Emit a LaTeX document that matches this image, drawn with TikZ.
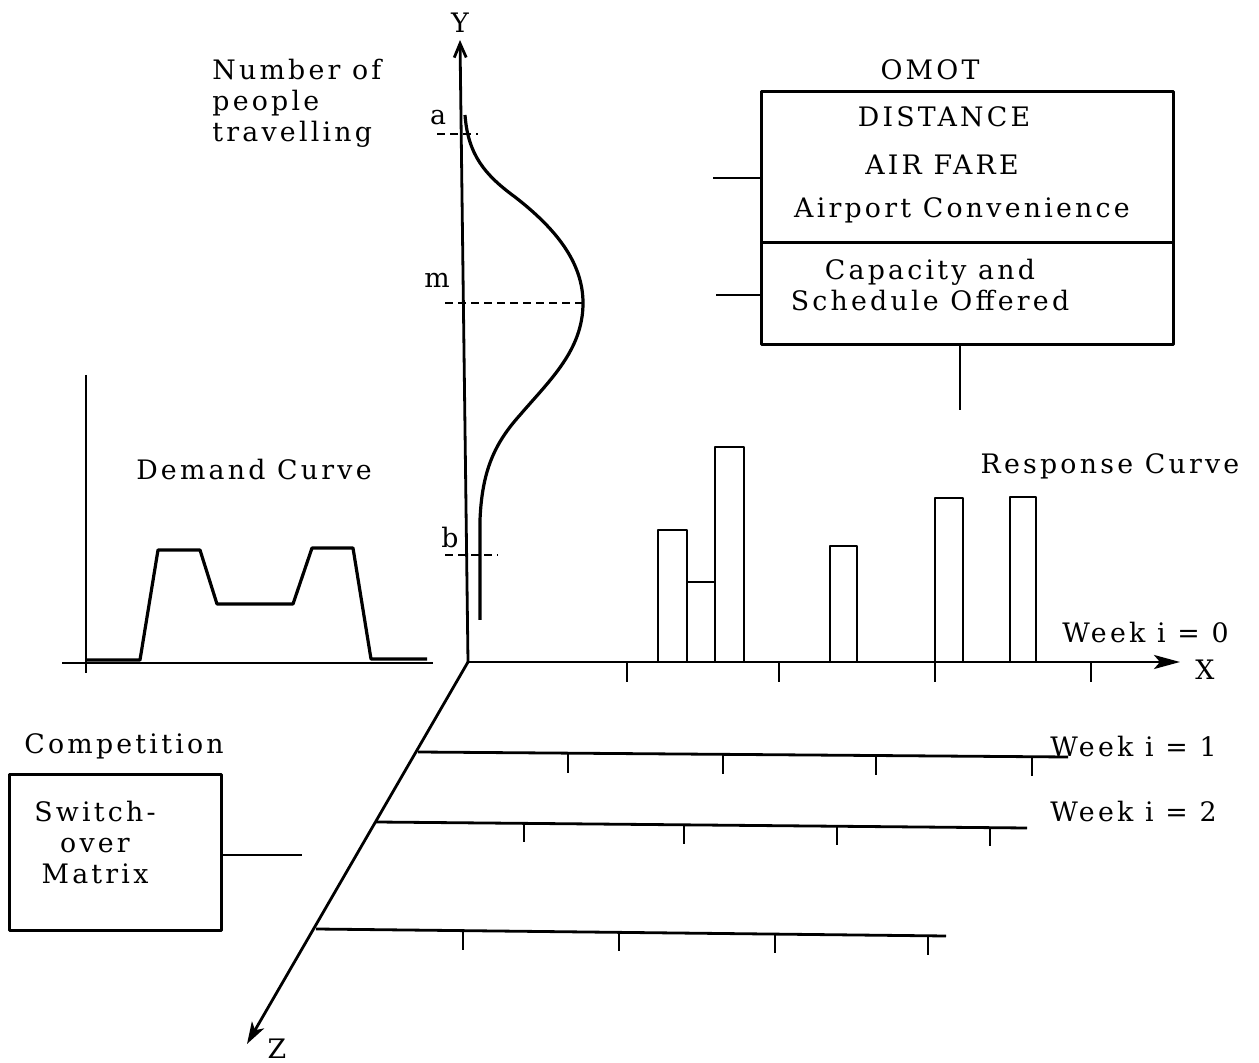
\documentclass[tikz,border=0pt]{standalone}
\usepackage{fontspec}
\usetikzlibrary{arrows.meta, positioning}
\newfontfamily\memofamily{DejaVu Serif}[LetterSpace=12]
\newcommand{\memofont}{\memofamily\fontsize{13.4}{15.5}\selectfont}
\tikzset{memotext/.style={font=\memofont, inner sep=0pt},memobox/.style={draw=black, line width=1.5pt, inner sep=0pt}}

\begin{document}
\begin{tikzpicture}[
        x=0.5pt, y=-0.5pt,
        line join=bevel,
        axisline/.style={line width=1.4pt},
        curveline/.style={line width=1.6pt},
        guideline/.style={line width=1.1pt, dash pattern=on 4pt off 2.5pt}
    ]
        \useasboundingbox (0,0) rectangle (1259,1063);
        % Axes
        \coordinate (origin) at (468,662);
        \draw[axisline, -{Straight Barb[length=7pt, width=6pt]}] (origin) -- (460,40) node[memotext, above=3pt] (ylabel) {Y};
        \draw[axisline, -{Stealth[length=13pt, width=7pt, inset=3pt]}] (origin) -- (1180,662);
        \draw[axisline, -{Stealth[length=11pt, width=7pt, inset=3pt]}] (origin) -- (247,1044);
        \node[memotext] (xlabel) at (1205,670) {X};
        \node[memotext] (zlabel) at (277,1049) {Z};
        \node[memotext, align=left, anchor=west] (ytitle) at (212,103) {Number of\\people\\travelling};
        % Axis graduation
        \foreach \x in {627, 779, 935, 1091} {
            \draw[axisline] (\x,662) -- (\x,682);
        }
        \draw[guideline] (437,134) -- (478,134);
        \draw[guideline] (445,303) -- (583,303);
        \draw[guideline] (445,555) -- (498,555);
        \node[memotext] (alab) at (438,118) {a};
        \node[memotext] (mlab) at (437,280) {m};
        \node[memotext] (blab) at (450,538) {b};
        % Distribution
        \draw[curveline] (465,115) .. controls (468,155) and (485,175) .. (515,197)
            .. controls (555,228) and (583,262) .. (583,303)
            .. controls (583,350) and (550,380) .. (520,415)
            .. controls (495,443) and (482,470) .. (480,520) -- (480,620);
        % Response bars
        \foreach \barL/\barR/\barT in {658/687/530, 687/715/582, 715/744/447, 830/857/546, 935/963/498, 1010/1036/497} {
            \draw[axisline] (\barL,662) -- (\barL,\barT) -- (\barR,\barT) -- (\barR,662);
        }
        \node[memotext] (response) at (1110,466) {Response Curve};
        \node[memotext, anchor=west] (week0) at (1062,633) {Week i = 0};
        % Later weeks
        \draw[axisline] (418,752) -- (1068,757);
        \foreach \x/\y in {568/753, 723/754, 876/755, 1032/756} {
            \draw[axisline] (\x,\y) -- (\x,\y+20);
        }
        \draw[axisline] (376,822) -- (1027,828);
        \foreach \x/\y in {524/823, 684/825, 837/826, 990/827} {
            \draw[axisline] (\x,\y) -- (\x,\y+19);
        }
        \draw[axisline] (316,929) -- (946,936);
        \foreach \x/\y in {463/931, 619/932, 775/934, 928/936} {
            \draw[axisline] (\x,\y) -- (\x,\y+19);
        }
        \node[memotext, anchor=west] (week1) at (1050,747) {Week i = 1};
        \node[memotext, anchor=west] (week2) at (1050,812) {Week i = 2};
        % Demand curve
        \draw[axisline] (86,375) -- (86,673);
        \draw[axisline] (62,663) -- (433,663);
        \draw[curveline] (86,660) -- (140,660) -- (158,550) -- (200,550) -- (217,604) -- (293,604) -- (312,548) -- (353,548) -- (371,659) -- (427,659);
        \node[memotext] (demand) at (254,470) {Demand Curve};
        % OMOT box
        \node[memotext] (omot) at (930,70) {OMOT};
        \node[memobox, minimum width=206pt, minimum height=75.5pt] (omotup) at (967,167.5) {};
        \node[memobox, minimum width=206pt, minimum height=51pt] (omotlow) at (967,294) {};
        \node[memotext] (distance) at (944,117) {DISTANCE};
        \node[memotext] (airfare) at (942,165) {AIR FARE};
        \node[memotext] (airport) at (962,210) {Airport Convenience};
        \node[memotext, align=center] (capacity) at (930,285) {Capacity and\\Schedule Offered};
        \coordinate (omotstubA) at (713,178);
        \coordinate (omotstubB) at (716,295);
        \coordinate (omotstubC) at (960,410);
        \draw[axisline] (omotstubA) -- (omotstubA -| omotup.west);
        \draw[axisline] (omotstubB) -- (omotstubB -| omotlow.west);
        \draw[axisline] (omotstubC) -- (omotstubC |- omotlow.south);
        % Competition box
        \node[memotext] (competition) at (124,746) {Competition};
        \node[memobox, minimum width=106pt, minimum height=77.5pt] (switchbox) at (115,852.5) {};
        \node[memotext, align=center] (switchtext) at (95,843) {Switch-\\over\\Matrix};
        \coordinate (switchstub) at (302,855);
        \draw[axisline] (switchbox.east |- switchstub) -- (switchstub);
    \end{tikzpicture}
\end{document}
